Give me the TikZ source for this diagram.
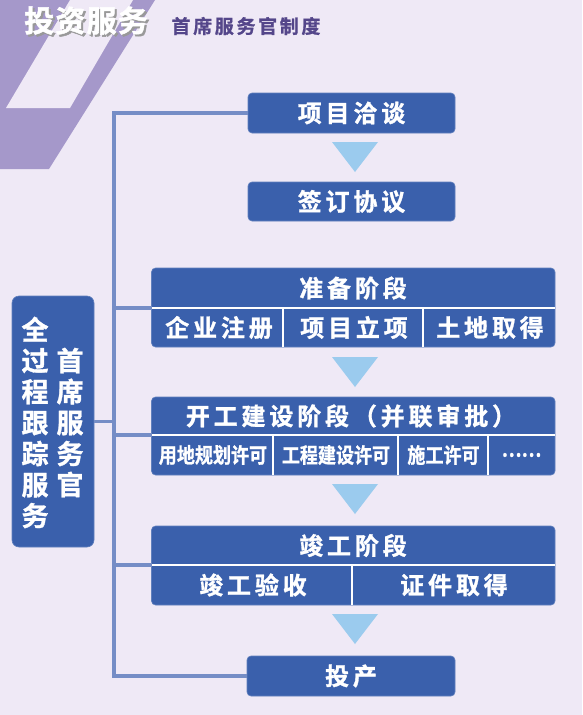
\documentclass[tikz,border=0pt]{standalone}
\usepackage{fontspec}
\newfontfamily\cjkbox{Noto Sans CJK SC Bold}[LetterSpace=16, FakeBold=1.2]
\newfontfamily\cjknarrow{Noto Sans CJK SC Bold}[FakeStretch=0.86, FakeBold=1]
\newfontfamily\cjkplain{Noto Sans CJK SC Bold}[FakeBold=1.2]
\newfontfamily\cjktitle{Noto Sans CJK SC Bold}[LetterSpace=4, FakeBold=1.5]
\newfontfamily\cjksub{Noto Sans CJK SC Bold}[LetterSpace=14, FakeBold=1]

\definecolor{bgpurple}{RGB}{239,233,246}
\definecolor{decopurple}{RGB}{165,152,202}
\definecolor{subpurple}{RGB}{84,70,138}
\definecolor{boxblue}{RGB}{58,96,172}
\definecolor{linkblue}{RGB}{117,141,198}
\definecolor{triblue}{RGB}{155,203,238}

\tikzset{
	stagebox/.style={fill=boxblue, draw=boxblue!80!white, line width=0.6pt,
		rounded corners=4, inner sep=0pt, outer sep=0pt, anchor=north west,
		text=white, font=\cjkbox\fontsize{24}{28}\selectfont},
	boxtext/.style={text=white, inner sep=0pt, font=\cjkbox\fontsize{24}{28}\selectfont},
	subtext/.style={text=white, inner sep=0pt, font=\cjknarrow\fontsize{21}{25}\selectfont},
	vtext/.style={text=white, inner sep=0pt, align=center, font=\cjkplain\fontsize{27}{31}\selectfont},
	link/.style={draw=linkblue, line width=3.5pt},
	divline/.style={draw=white, line width=2pt},
	downarrow/.style={fill=triblue}
}

\begin{document}
\begin{tikzpicture}[x=1pt, y=-1pt, thick]
	\useasboundingbox (0,0) rectangle (582,715);
	\fill[bgpurple] (0,0) rectangle (582,715);
	
	% corner decoration
	\fill[decopurple] (0,0) -- (155,0) -- (49,169) -- (0,169) -- cycle;
	\fill[bgpurple] (70,0) -- (133,0) -- (70,108) -- (6,108) -- cycle;
	
	% title
	\node[text=white, inner sep=0pt, font=\cjktitle\fontsize{30}{32}\selectfont] (title) at (86,21.5)
		{\rlap{\kern2pt\raisebox{-2pt}{\color{black!40}投资服务}}投资服务};
	\node[text=subpurple, inner sep=0pt, font=\cjksub\fontsize{19}{22}\selectfont] (subtitle) at (246,26) {首席服务官制度};
	
	%Step 1
	\node[stagebox, minimum width=207, minimum height=40] (xmqt) at (248,93) {项目洽谈};
	%Step 2
	\node[stagebox, minimum width=207, minimum height=39] (qdxy) at (248,182) {签订协议};
	
	%Step 3
	\node[stagebox, minimum width=403.5, minimum height=79] (zbjd) at (151.5,268) {};
	\node[boxtext] (zbjd_head) at (353,288) {准备阶段};
	\node[boxtext] (zbjd_a) at (219,327.5) {企业注册};
	\node[boxtext] (zbjd_b) at (354,327.5) {项目立项};
	\node[boxtext] (zbjd_c) at (490,327.5) {土地取得};
	\coordinate (zbjd_split) at (151.5,308);
	\draw[divline] (zbjd_split) -- (zbjd_split -| zbjd.east);
	\draw[divline] (283,308) -- (283,347);
	\draw[divline] (423,308) -- (423,347);
	
	%Step 4
	\node[stagebox, minimum width=403.5, minimum height=78] (kgjs) at (151.5,397) {};
	\node[boxtext] (kgjs_head) at (351,416) {开工建设阶段（并联审批）};
	\node[subtext] (kgjs_a) at (213,455) {用地规划许可};
	\node[subtext] (kgjs_b) at (336,455) {工程建设许可};
	\node[subtext] (kgjs_c) at (443.5,455) {施工许可};
	\node[subtext] (kgjs_d) at (521.5,455) {……};
	\coordinate (kgjs_split) at (151.5,435);
	\draw[divline] (kgjs_split) -- (kgjs_split -| kgjs.east);
	\draw[divline] (273,435) -- (273,475);
	\draw[divline] (398,435) -- (398,475);
	\draw[divline] (488,435) -- (488,475);
	
	%Step 5
	\node[stagebox, minimum width=403.5, minimum height=79] (jgjd) at (151.5,526) {};
	\node[boxtext] (jgjd_head) at (353,545.5) {竣工阶段};
	\node[boxtext] (jgjd_a) at (253,585) {竣工验收};
	\node[boxtext] (jgjd_b) at (454,585) {证件取得};
	\coordinate (jgjd_split) at (151.5,565);
	\draw[divline] (jgjd_split) -- (jgjd_split -| jgjd.east);
	\draw[divline] (352,565) -- (352,605);
	
	%Step 6
	\node[stagebox, minimum width=208, minimum height=40] (touchan) at (247,656) {投产};
	
	% arrows between steps
	\foreach \y in {142,357,484,614}
	\fill[downarrow] (332,\y) -- (378,\y) -- (355,\y+30) -- cycle;
	
	% service officer
	\node[stagebox, minimum width=82, minimum height=251, rounded corners=7] (sxfwg) at (12,296) {};
	\node[vtext] (sxfwg_a) at (35,422.5) {全\\过\\程\\跟\\踪\\服\\务};
	\node[vtext] (sxfwg_b) at (70,422.5) {首\\席\\服\\务\\官};
	
	% connectors
	\coordinate (spine_top) at (114,113);
	\coordinate (spine_bot) at (114,676);
	\draw[link] (xmqt.west) -- (spine_top) -- (spine_bot) -- (touchan.west);
	\draw[link] (spine_top |- zbjd_split) -- (zbjd_split);
	\draw[link] (spine_top |- kgjs_split) -- (kgjs_split);
	\draw[link] (spine_top |- jgjd_split) -- (jgjd_split);
	\draw[link] (sxfwg.east) -- (sxfwg.east -| spine_top);
\end{tikzpicture}
\end{document}
